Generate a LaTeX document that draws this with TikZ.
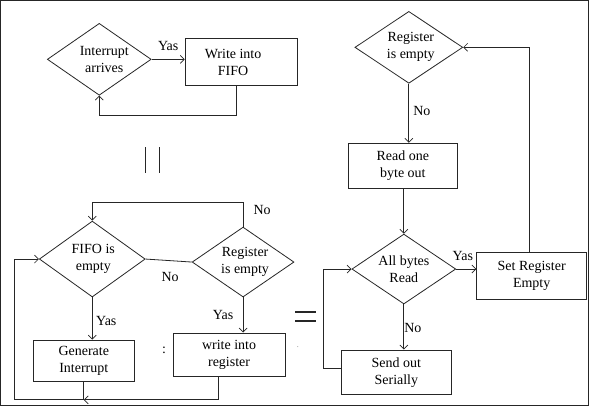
\documentclass[tikz,border=0pt]{standalone}
\usepackage{fontspec}
\setmainfont{Liberation Serif}
\newfontfamily\flowserif{Liberation Serif}
\usetikzlibrary{shapes.geometric,arrows.meta}
\begin{document}
\begin{tikzpicture}[x=1pt,y=-1pt,
  every node/.style={font=\flowserif\fontsize{14}{17}\selectfont, text=black},
  every label/.style={align=center, font=\flowserif\fontsize{14}{17}\selectfont},
  dia/.style 2 args={draw, diamond, inner sep=0pt, minimum width=#1pt, minimum height=#2pt},
  box/.style 2 args={draw, rectangle, align=center, inner sep=0pt, minimum width=#1pt, minimum height=#2pt},
  every path/.style={line width=0.8pt, draw=black!85},
  arr/.style={-{Straight Barb[length=4pt,width=8pt,line width=0.7pt]}}]
\fill[white] (0,0) rectangle (589,406);
\useasboundingbox (0,0) rectangle (589,406);

% top-left loop
\node[dia={104}{72}, label={[xshift=5pt]center:{Interrupt\\arrives}}] (d1) at (99,59) {};
\node[box={112}{47}, label={[xshift=-8pt,yshift=-1pt]center:{Write into\\FIFO}}] (b1) at (241,61.5) {};
\draw[arr] (d1.east) -- (d1.east -| b1.west);
\node (y1) at (168,46) {Yas};
\draw[arr] ([xshift=-5pt]b1.south) -- ++(0,30) -| (d1.south);

% parallel mark
\coordinate (p1) at (145,147); \coordinate (p2) at (145,173);
\coordinate (p3) at (159,147); \coordinate (p4) at (159,173);
\draw[line width=1.2pt] (p1) -- (p2) (p3) -- (p4);

% bottom-left part
\node[dia={106}{76}, label={[xshift=1pt]center:{FIFO is\\empty}}] (d2) at (92,259) {};
\node[dia={102}{70}, label={[xshift=2pt]center:{Register\\is empty}}] (d3) at (243,262) {};
\draw (d2.east) -- (d3.west);
\node (n1) at (170,277) {No};
\draw[arr] (d3.north) -- ++(0,-24) -| (d2.north);
\node (n2) at (262,210) {No};
\node[box={101}{42}] (b2) at (83.5,361) {Generate\\Interrupt};
\draw[arr] (d2.south) -- (d2.south |- b2.north);
\node (y2) at (106,321) {Yas};
\node[box={112}{44}] (b3) at (229,355) {write into\\register};
\draw[arr] (d3.south) -- (d3.south |- b3.north);
\node (y3) at (223,315) {Yas};
\coordinate (j) at (83.5,400);
\coordinate (c1) at (14,400);
\draw[arr] ([xshift=-11pt]b3.south) |- (j);
\draw (b2.south) -- (j);
\draw[arr] (j) -- (c1) |- (d2.west);
\node (colon) at (164,350) {:};
\node[font=\fontsize{8}{8}\selectfont, text=black!50] (dot) at (298,347) {.};

% equals mark
\coordinate (e1) at (295,312); \coordinate (e2) at (316,312);
\coordinate (e3) at (295,321); \coordinate (e4) at (316,321);
\draw[line width=1.1pt] (e1) -- (e2) (e3) -- (e4);

% right part
\node[dia={108}{72}, label={[xshift=2pt]center:{Register\\is empty}}] (d4) at (409,47) {};
\node[box={110}{45}] (b4) at (403,165.5) {Read one\\byte out};
\draw[arr] (d4.south) -- (d4.south |- b4.north);
\node (n3) at (422,111) {No};
\node[dia={104}{70}, label={center:{All bytes\\Read}}] (d5) at (404,269) {};
\draw[arr] (b4.south -| d5.north) -- (d5.north);
\node[box={110}{47}] (b5) at (532,275.5) {Set Register\\Empty};
\draw[arr] (d5.east) -- (d5.east -| b5.west);
\node (y4) at (463,256) {Yas};
\draw[arr] ([xshift=-2pt]b5.north) |- (d4.east);
\node[box={111}{45}] (b6) at (396.5,372.5) {Send out\\Serially};
\draw[arr] (d5.south) -- (d5.south |- b6.north);
\node (n4) at (413,328) {No};
\draw[arr] ([yshift=4.5pt]b6.west) -- ++(-17,0) |- (d5.west);
\end{tikzpicture}
\end{document}
